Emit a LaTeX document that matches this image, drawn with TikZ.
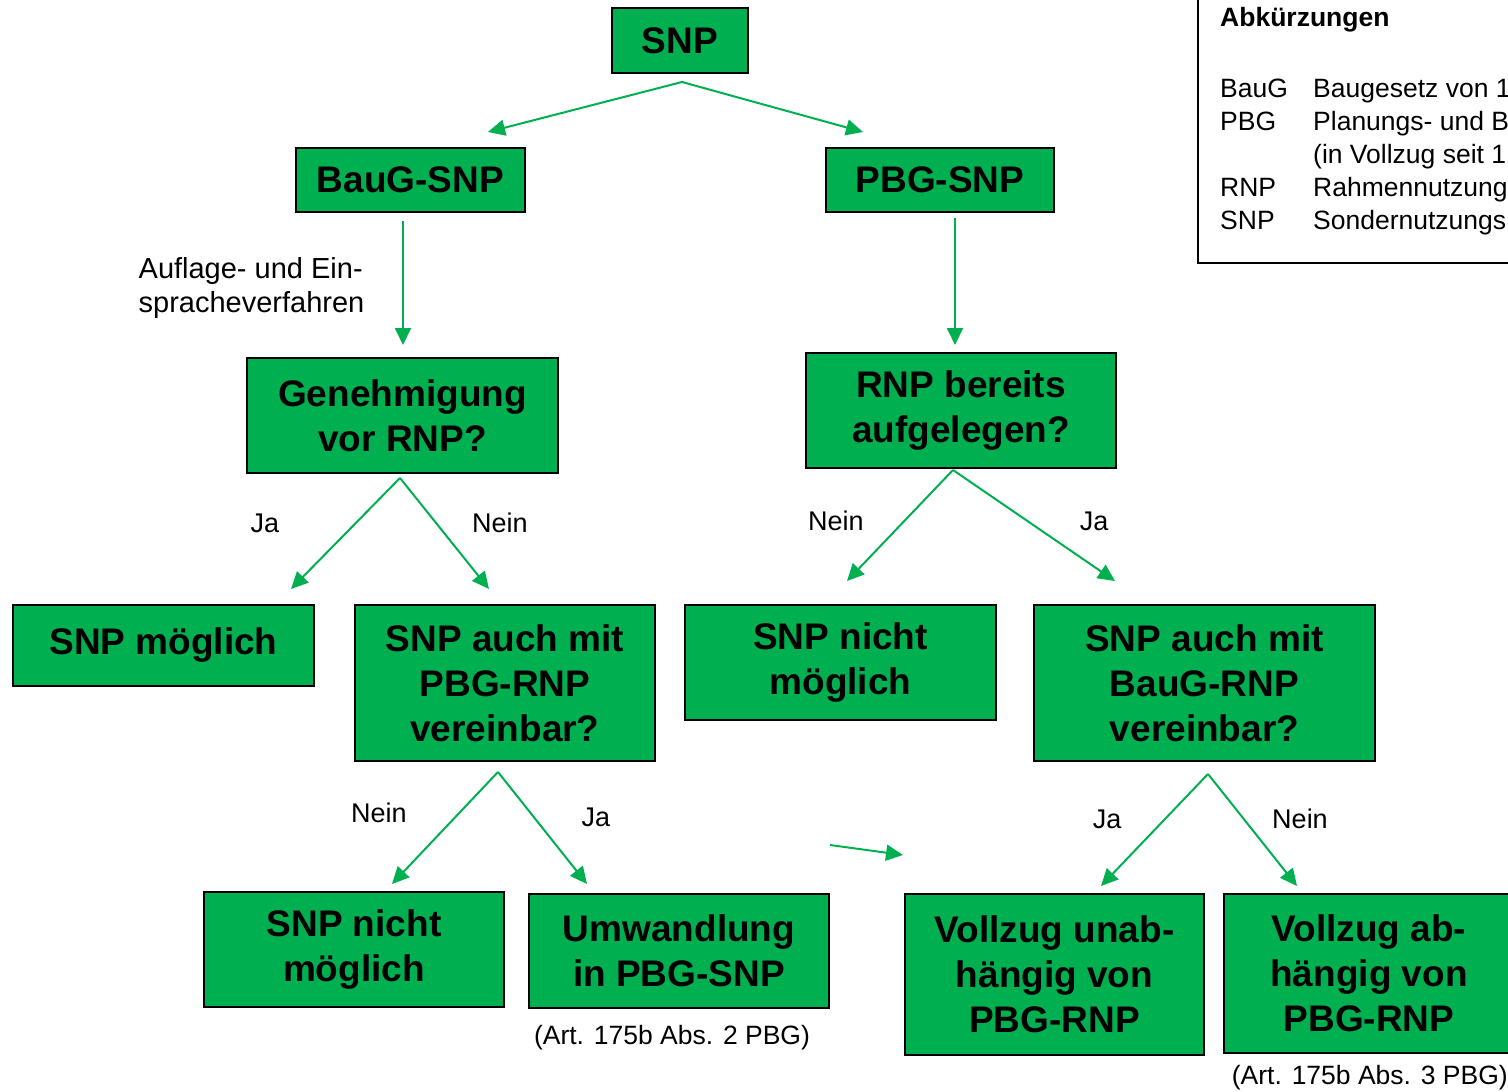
\documentclass[tikz,border=0pt]{standalone}
\usepackage{fontspec}
\setmainfont{Liberation Sans}
\usepackage{xcolor}
\usetikzlibrary{arrows.meta}

\definecolor{snpgreen}{HTML}{00B050}

\tikzset{
    box/.style={draw=black, fill=snpgreen, line width=2pt, align=center,
        inner sep=0pt, font=\fontsize{37}{45}\selectfont\bfseries},
    flow/.style={draw=snpgreen, line width=2pt, -{Triangle[length=17pt,width=16pt]}},
    lbl/.style={font=\fontsize{27}{33}\selectfont, inner sep=0pt},
    legtext/.style={font=\fontsize{26.5}{30}\selectfont, inner sep=0pt, anchor=base west}
}

\begin{document}
\begin{tikzpicture}[x=1pt, y=-1pt]
    \useasboundingbox (0,0) rectangle (1508,1092);
    \clip (0,0) rectangle (1508,1092);

    % Boxes
    \node[box, minimum width=136pt, minimum height=65pt] (snp) at (680,40.5) {SNP};
    \node[box, minimum width=229pt, minimum height=64pt] (baug) at (410.5,180) {BauG-SNP};
    \node[box, minimum width=228pt, minimum height=64pt] (pbg) at (940,180) {PBG-SNP};
    \node[box, minimum width=311pt, minimum height=115pt] (genehm) at (402.5,415.5) {Genehmigung\\vor RNP?};
    \node[box, minimum width=310pt, minimum height=115pt] (rnpauf) at (961,410.5) {RNP bereits\\aufgelegen?};
    \node[box, minimum width=301pt, minimum height=81pt] (moegl) at (163.5,645.5) {SNP möglich};
    \node[box, minimum width=300pt, minimum height=156pt] (pbgver) at (505,683) {SNP auch mit\\PBG-RNP\\vereinbar?};
    \node[box, minimum width=311pt, minimum height=115pt] (nichtA) at (840.5,662.5) {SNP nicht\\möglich};
    \node[box, minimum width=341pt, minimum height=156pt] (baugver) at (1204.5,683) {SNP auch mit\\BauG-RNP\\vereinbar?};
    \node[box, minimum width=300pt, minimum height=115pt] (nichtB) at (354,949.5) {SNP nicht\\möglich};
    \node[box, minimum width=300pt, minimum height=114pt] (umwand) at (679,951) {Umwandlung\\in PBG-SNP};
    \node[box, minimum width=299pt, minimum height=161pt] (unabh) at (1054.5,974.5) {Vollzug unab-\\hängig von\\PBG-RNP};
    \node[box, minimum width=290pt, minimum height=159pt] (abh) at (1369,973.5) {Vollzug ab-\\hängig von\\PBG-RNP};

    % Fork points and arrow ends
    \coordinate (snpfork) at (682,82);
    \coordinate (baugin) at (488,132);
    \coordinate (pbgin) at (863,132);
    \coordinate (genehmfork) at (400,478);
    \coordinate (moeglin) at (291,589);
    \coordinate (pbgverin) at (489,589);
    \coordinate (rnpfork) at (953,470);
    \coordinate (nichtAin) at (847,581);
    \coordinate (baugverin) at (1115,581);
    \coordinate (pbgverfork) at (498,772);
    \coordinate (nichtBin) at (392,884);
    \coordinate (umwandin) at (587,884);
    \coordinate (baugverfork) at (1208,774);
    \coordinate (unabhin) at (1101,886);
    \coordinate (abhin) at (1297,886);
    \coordinate (looseA) at (830,845);
    \coordinate (looseB) at (903,855);

    % Connectors
    \draw[flow] (snpfork) -- (baugin);
    \draw[flow] (snpfork) -- (pbgin);
    \draw[flow] ([yshift=-8pt]baug.south -| 403,0) -- ([yshift=12pt]genehm.north -| 403,0);
    \draw[flow] ([yshift=-5pt]pbg.south -| 955,0) -- ([yshift=7pt]rnpauf.north -| 955,0);
    \draw[flow] (genehmfork) -- (moeglin);
    \draw[flow] (genehmfork) -- (pbgverin);
    \draw[flow] (rnpfork) -- (nichtAin);
    \draw[flow] (rnpfork) -- (baugverin);
    \draw[flow] (pbgverfork) -- (nichtBin);
    \draw[flow] (pbgverfork) -- (umwandin);
    \draw[flow] (baugverfork) -- (unabhin);
    \draw[flow] (baugverfork) -- (abhin);
    \draw[flow] (looseA) -- (looseB);

    % Labels
    \node[lbl, align=left, font=\fontsize{29}{34}\selectfont] (verfahren) at (251.5,288) {Auflage- und Ein-\\spracheverfahren};
    \node[lbl] (jaA) at (265,523) {Ja};
    \node[lbl] (neinA) at (500,523) {Nein};
    \node[lbl] (neinB) at (836,521) {Nein};
    \node[lbl] (jaB) at (1094,521) {Ja};
    \node[lbl] (neinC) at (379,813) {Nein};
    \node[lbl] (jaC) at (596,817) {Ja};
    \node[lbl] (jaD) at (1107,819) {Ja};
    \node[lbl] (neinD) at (1300,819) {Nein};
    \node[lbl, font=\fontsize{26.5}{32}\selectfont] (artA) at (672,1038) {(Art. 175b Abs. 2 PBG)};
    \node[lbl, font=\fontsize{26.5}{32}\selectfont, anchor=east] (artB) at (1508,1078) {(Art. 175b Abs. 3 PBG)};

    % Legend
    \draw[line width=1.5pt] (1198,-5) rectangle (1520,263);
    \node[legtext, font=\fontsize{26.5}{30}\selectfont\bfseries] (legtitle) at (1220,27) {Abkürzungen};
    \node[legtext] (kbaug) at (1220,97) {BauG};
    \node[legtext] (tbaug) at (1313,97) {Baugesetz von 1};
    \node[legtext] (kpbg) at (1220,130) {PBG};
    \node[legtext] (tpbg) at (1313,130) {Planungs- und B};
    \node[legtext] (tvoll) at (1313,163) {(in Vollzug seit 1};
    \node[legtext] (krnp) at (1220,196) {RNP};
    \node[legtext] (trnp) at (1313,196) {Rahmennutzung};
    \node[legtext] (ksnp) at (1220,229) {SNP};
    \node[legtext] (tsnp) at (1313,229) {Sondernutzungs};
\end{tikzpicture}
\end{document}
